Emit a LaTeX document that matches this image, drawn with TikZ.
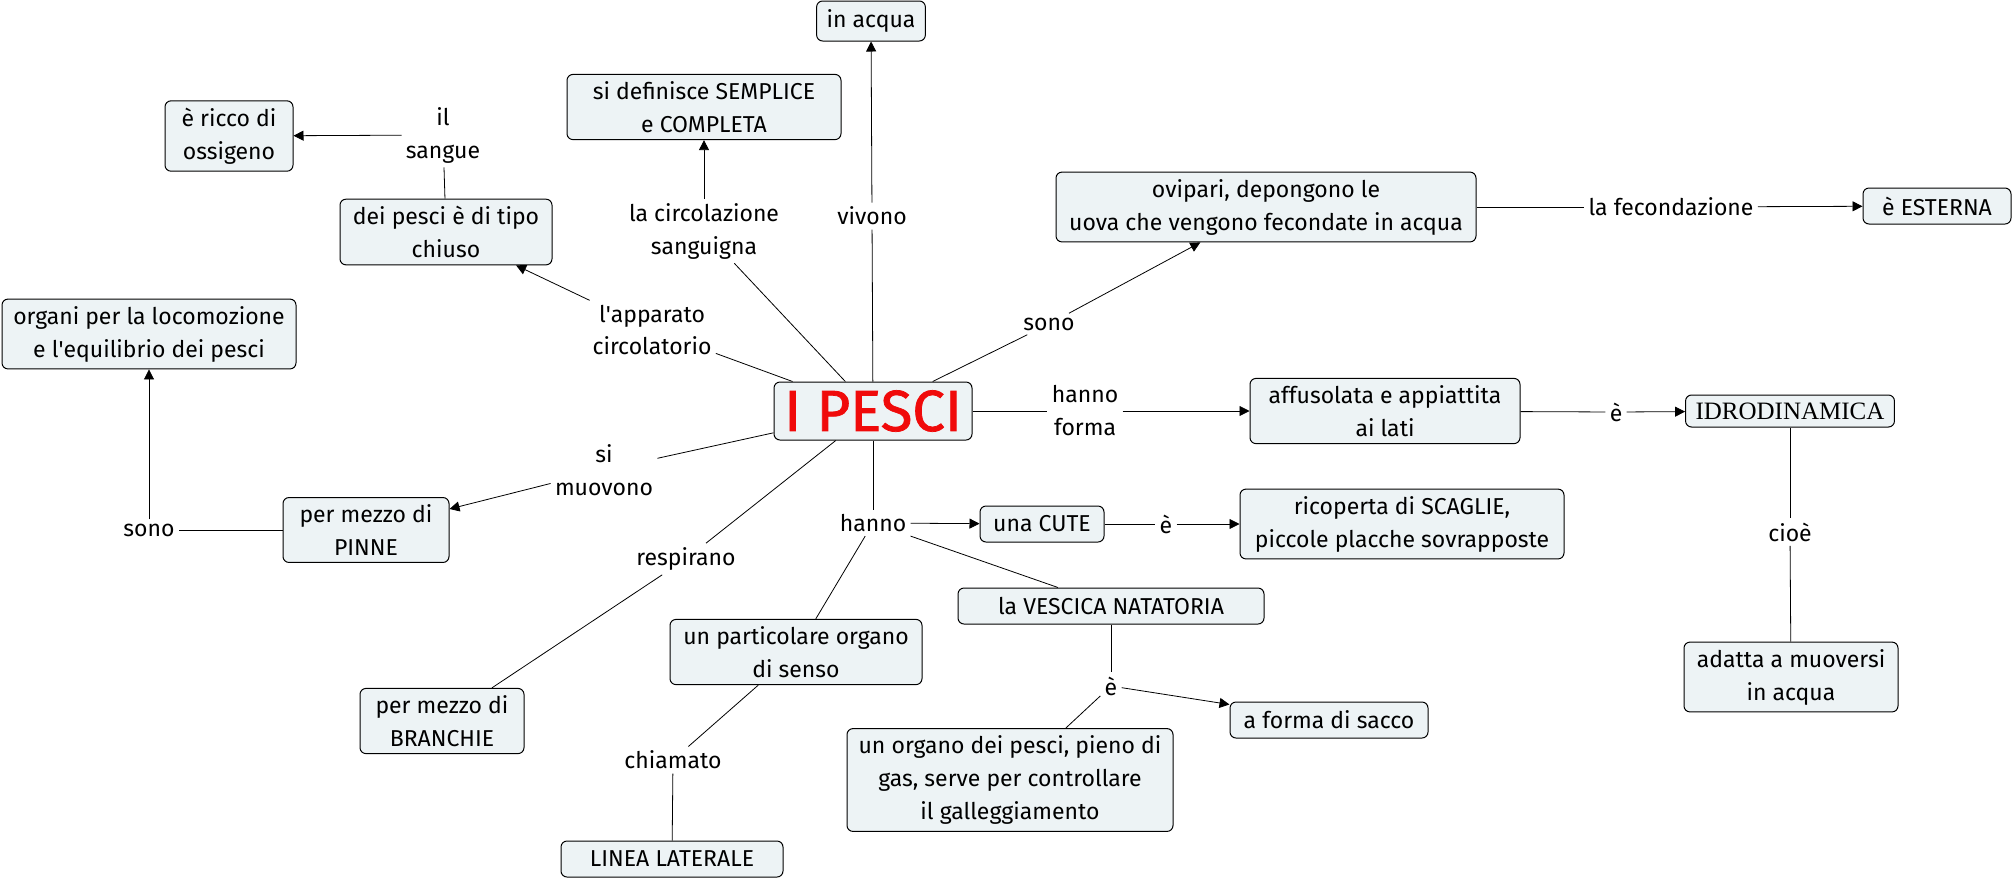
\documentclass[tikz,border=0pt]{standalone}
\usepackage{fontspec}
\setmainfont{Fira Sans}
\newfontfamily\idrofont{Liberation Serif}
\newfontfamily\titlefont[FakeBold=1.3]{Fira Sans}
\usetikzlibrary{arrows.meta}
\definecolor{conceptfill}{RGB}{237,243,245}
\definecolor{titlered}{RGB}{240,10,10}

\begin{document}
\begin{tikzpicture}[x=0.5pt,y=-0.5pt,
    every node/.style={align=center,font=\fontsize{11.5}{16.5}\selectfont},
    concept/.style={draw,rounded corners=3pt,fill=conceptfill,line width=0.5pt,
        inner xsep=5pt,inner ysep=3.5pt,minimum height=18pt},
    linkword/.style={inner sep=2pt},
    link/.style={line width=0.4pt},
    arrowlink/.style={link,-{Triangle[length=5pt,width=5pt]}}
  ]
  \useasboundingbox (0,0) rectangle (2014,880);

  % concepts
  \node[concept,inner ysep=1pt,minimum width=99pt,minimum height=29pt,
    font=\titlefont\fontsize{29}{30}\selectfont,text=titlered] (pesci) at (873,411) {I PESCI};
  \node[concept,minimum width=52pt,minimum height=20pt] (acqua) at (871,21) {in acqua};
  \node[concept,minimum width=137pt] (semplice) at (704,107) {si definisce SEMPLICE\\e COMPLETA};
  \node[concept,minimum width=64pt] (ricco) at (229,136) {è ricco di\\ossigeno};
  \node[concept,minimum width=106pt] (chiuso) at (446,232) {dei pesci è di tipo\\chiuso};
  \node[concept,minimum width=147pt] (organi) at (149,334) {organi per la locomozione\\e l\textquotesingle equilibrio dei pesci};
  \node[concept,minimum width=210pt] (ovipari) at (1266,207) {ovipari, depongono le\\uova che vengono fecondate in acqua};
  \node[concept,minimum width=74pt] (esterna) at (1937,206) {è ESTERNA};
  \node[concept,minimum width=135pt] (affusolata) at (1385,411) {affusolata e appiattita\\ai lati};
  \node[concept,minimum width=102pt,minimum height=16pt,inner ysep=2pt,
    font=\idrofont\fontsize{12.5}{14}\selectfont] (idro) at (1790,411) {IDRODINAMICA};
  \node[concept,minimum width=107pt] (adatta) at (1791,677) {adatta a muoversi\\in acqua};
  \node[concept,minimum width=83pt] (pinne) at (366,530) {per mezzo di\\PINNE};
  \node[concept,minimum width=62pt] (cute) at (1042,524) {una CUTE};
  \node[concept,minimum width=162pt] (scaglie) at (1402,524) {ricoperta di SCAGLIE,\\piccole placche sovrapposte};
  \node[concept,minimum width=153pt] (vescica) at (1111,606) {la VESCICA NATATORIA};
  \node[concept,minimum width=126pt] (senso) at (796,652) {un particolare organo\\di senso};
  \node[concept,minimum width=82pt] (branchie) at (442,721) {per mezzo di\\BRANCHIE};
  \node[concept,minimum width=99pt] (sacco) at (1329,720) {a forma di sacco};
  \node[concept,minimum width=163pt] (gas) at (1010,780) {un organo dei pesci, pieno di\\gas, serve per controllare\\il galleggiamento};
  \node[concept,minimum width=111pt] (linea) at (672,859) {LINEA LATERALE};

  % linking words
  \node[linkword] (lvivono) at (872,216) {vivono};
  \node[linkword] (lcirc) at (704,231) {la circolazione\\sanguigna};
  \node[linkword] (lapp) at (652,330) {l\textquotesingle apparato\\circolatorio};
  \node[linkword] (lsangue) at (443,135) {il\\sangue};
  \node[linkword] (lsonoA) at (1049,324) {sono};
  \node[linkword] (lfec) at (1671,207) {la fecondazione};
  \node[linkword] (lforma) at (1085,411) {hanno\\forma};
  \node[linkword] (leA) at (1616,412) {è};
  \node[linkword] (lcioe) at (1790,532) {cioè};
  \node[linkword] (lmuov) at (604,470) {si\\muovono};
  \node[linkword] (lsonoB) at (149,530) {sono};
  \node[linkword] (lhanno) at (873,523) {hanno};
  \node[linkword] (leB) at (1166,524) {è};
  \node[linkword] (lresp) at (686,559) {respirano};
  \node[linkword] (leC) at (1111,686) {è};
  \node[linkword] (lchiam) at (673,760) {chiamato};

  % connections
  \draw[link] (pesci) -- (lvivono);
  \draw[arrowlink] (lvivono) -- (acqua);
  \draw[link] (pesci) -- (lcirc);
  \draw[arrowlink] (lcirc) -- (semplice);
  \draw[link] (pesci) -- (lapp);
  \draw[arrowlink] (lapp) -- (chiuso);
  \draw[link] (chiuso) -- (lsangue);
  \draw[arrowlink] (lsangue) -- (ricco);
  \draw[link] (pesci) -- (lsonoA);
  \draw[arrowlink] (lsonoA) -- (ovipari);
  \draw[link] (ovipari) -- (lfec);
  \draw[arrowlink] (lfec) -- (esterna);
  \draw[link] (pesci) -- (lforma);
  \draw[arrowlink] (lforma) -- (affusolata);
  \draw[link] (affusolata) -- (leA);
  \draw[arrowlink] (leA) -- (idro);
  \draw[link] (idro) -- (lcioe);
  \draw[link] (lcioe) -- (adatta);
  \draw[link] (pesci) -- (lmuov);
  \draw[arrowlink] (lmuov) -- (pinne);
  \draw[link] (pinne) -- (lsonoB);
  \draw[arrowlink] (lsonoB) -- (organi);
  \draw[link] (pesci) -- (lhanno);
  \draw[arrowlink] (lhanno) -- (cute);
  \draw[link] (lhanno) -- (vescica);
  \draw[link] (lhanno) -- (senso);
  \draw[link] (cute) -- (leB);
  \draw[arrowlink] (leB) -- (scaglie);
  \draw[link] (pesci) -- (lresp);
  \draw[link] (lresp) -- (branchie);
  \draw[link] (senso) -- (lchiam);
  \draw[link] (lchiam) -- (linea);
  \draw[link] (vescica) -- (leC);
  \draw[arrowlink] (leC) -- (sacco);
  \draw[link] (leC) -- (gas);
\end{tikzpicture}
\end{document}
